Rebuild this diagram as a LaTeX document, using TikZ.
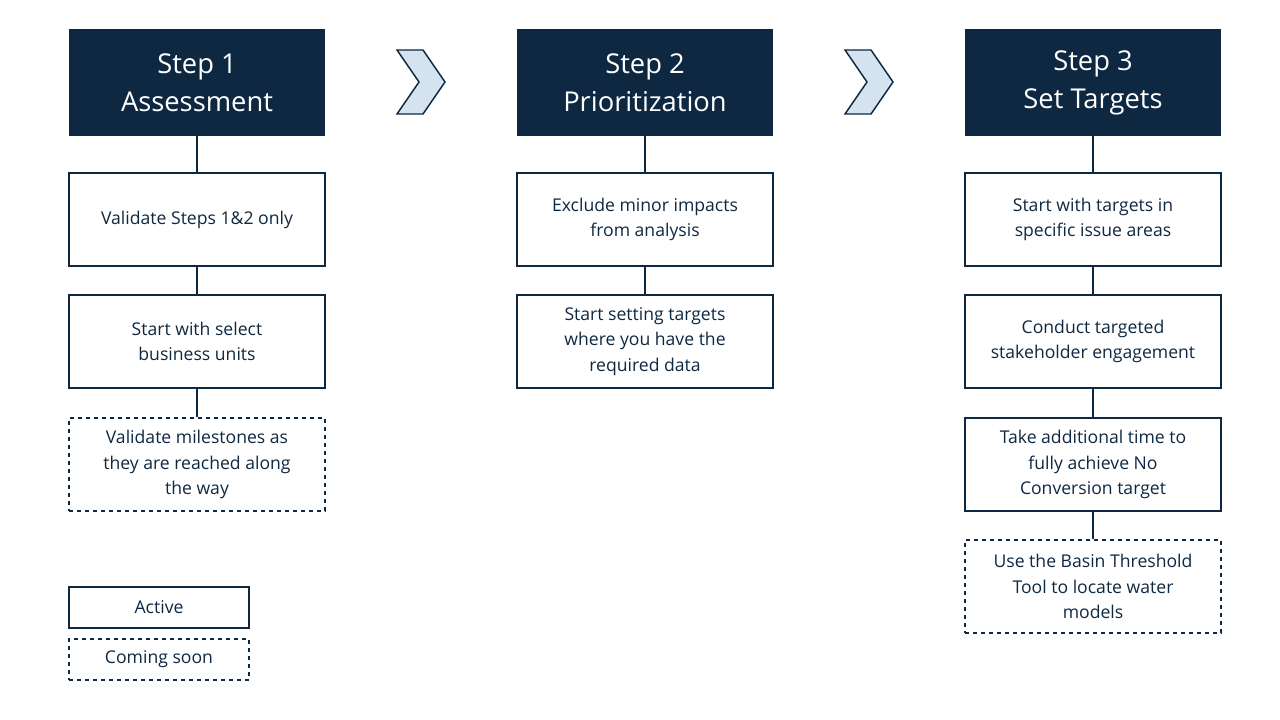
\documentclass[tikz,border=0pt]{standalone}
\usepackage{fontspec}
\setmainfont{Open Sans}
\definecolor{navy}{HTML}{0E2841}
\definecolor{chev}{HTML}{D5E3F0}
\begin{document}
\begin{tikzpicture}[x=0.75pt,y=-0.75pt,
 head/.style={fill=navy,text=white,minimum width=192pt,minimum height=80.25pt,align=center,font=\fontsize{20.5}{28.5}\selectfont,inner sep=0},
 box/.style={draw=navy,line width=1.1pt,minimum width=192pt,minimum height=69.75pt,align=center,font=\fontsize{13.2}{19}\selectfont,text=navy,inner sep=0},
 soon/.style={box,dashed},
 leg/.style={draw=navy,line width=1.1pt,minimum width=135pt,minimum height=30.75pt,font=\fontsize{13.2}{19}\selectfont,text=navy,inner sep=0},
 link/.style={draw=navy,line width=1.1pt},
 chv/.style={fill=chev,draw=navy,line width=1.1pt}]
\useasboundingbox (0,0) rectangle (1280,720);
\node[head] (h1) at (197,82.5) {Step 1\\Assessment};
\node[box] (a1) at (197,219.5) {Validate Steps 1\&2 only};
\node[box] (a2) at (197,341.5) {Start with select\\business units};
\node[soon] (a3) at (197,464.5) {Validate milestones as\\they are reached along\\the way};
\node[head] (h2) at (645,82.5) {Step 2\\Prioritization};
\node[box] (b1) at (645,219.5) {Exclude minor impacts\\from analysis};
\node[box] (b2) at (645,341.5) {Start setting targets\\where you have the\\required data};
\node[head] (h3) at (1093,82.5) {Step 3\\Set Targets};
\node[box] (c1) at (1093,219.5) {Start with targets in\\specific issue areas};
\node[box] (c2) at (1093,341.5) {Conduct targeted\\stakeholder engagement};
\node[box] (c3) at (1093,464.5) {Take additional time to\\fully achieve No\\Conversion target};
\node[soon] (c4) at (1093,586.5) {Use the Basin Threshold\\Tool to locate water\\models};
\node[leg] (l1) at (159,607.5) {Active};
\node[leg,dashed] (l2) at (159,659.5) {Coming soon};
\draw[link] (h1)--(a1) (a1)--(a2) (a2)--(a3);
\draw[link] (h2)--(b1) (b1)--(b2);
\draw[link] (h3)--(c1) (c1)--(c2) (c2)--(c3) (c3)--(c4);
\draw[chv] (397,50)--(423,50)--(445,82)--(423,114)--(397,114)--(419,82)--cycle;
\draw[chv] (845,50)--(871,50)--(893,82)--(871,114)--(845,114)--(867,82)--cycle;
\end{tikzpicture}
\end{document}
